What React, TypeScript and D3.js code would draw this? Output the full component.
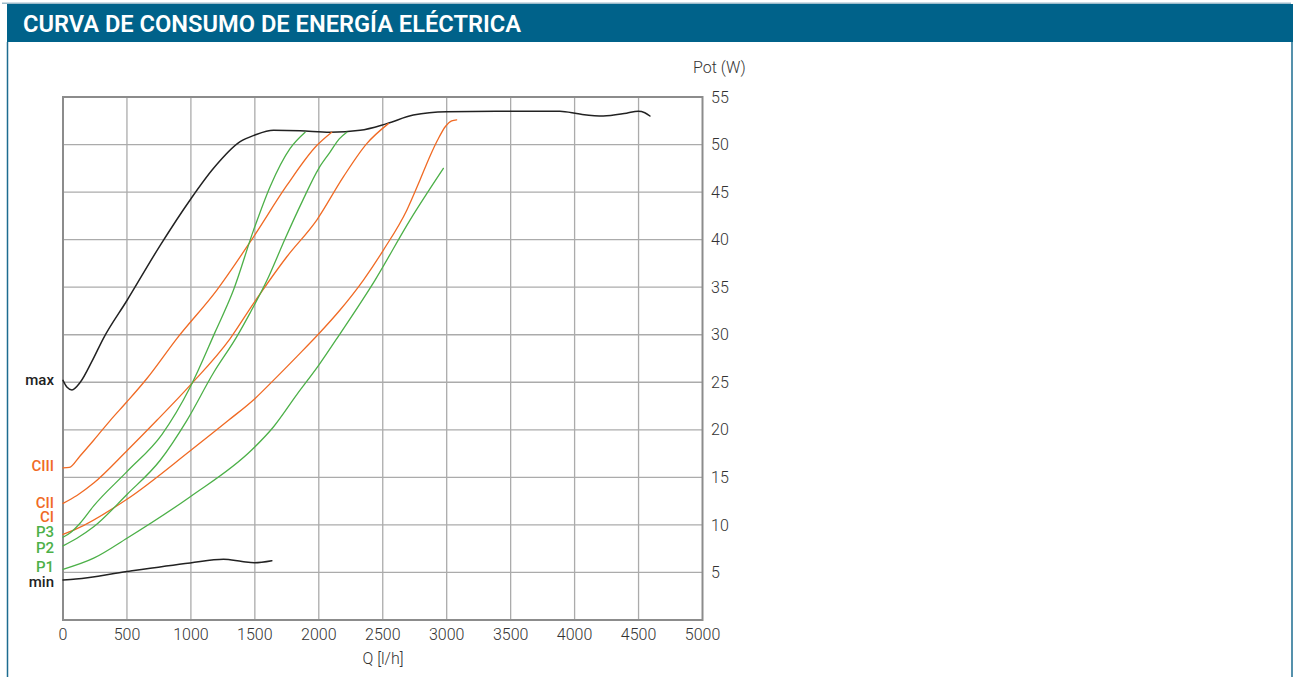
import React from "react";
import * as d3 from "d3";

const TITLE = "CURVA DE CONSUMO DE ENERGÍA ELÉCTRICA";
const xTicks = [0, 500, 1000, 1500, 2000, 2500, 3000, 3500, 4000, 4500, 5000];
const yTicks = [5, 10, 15, 20, 25, 30, 35, 40, 45, 50, 55];

const maxQ = [0, 30, 70, 135, 230, 315, 500, 760, 995, 1177, 1385, 1500, 1646, 1854, 2088, 2323, 2531, 2739, 3000, 3500, 3885, 4041, 4224, 4406, 4497, 4549, 4589];
const maxP = [25.2, 24.5, 24.2, 25.0, 27.3, 29.6, 33.6, 39.4, 44.2, 47.5, 50.3, 51.0, 51.5, 51.45, 51.3, 51.5, 52.2, 53.1, 53.45, 53.5, 53.5, 53.2, 53.0, 53.3, 53.5, 53.35, 53.0];

const minQ = [0, 100, 500, 995, 1255, 1400, 1497, 1633];
const minP = [4.2, 4.3, 5.1, 6.0, 6.38, 6.15, 6.02, 6.23];

const c3Q = [0, 50, 130, 240, 370, 500, 656, 890, 1203, 1490, 1750, 1984, 2101];
const c3P = [16.0, 16.05, 17.2, 18.9, 21.0, 22.95, 25.4, 29.6, 34.7, 40.3, 45.7, 49.9, 51.3];

const c2Q = [0, 109, 240, 500, 734, 995, 1307, 1490, 1750, 1984, 2192, 2375, 2544];
const c2P = [12.27, 13.1, 14.4, 17.8, 21.0, 24.7, 29.6, 33.3, 38.2, 42.06, 46.6, 50.1, 52.2];

const c1Q = [0, 109, 500, 995, 1294, 1502, 1645, 1828, 2000, 2166, 2349, 2505, 2688, 2792, 2870, 2930, 2990, 3039, 3078];
const c1P = [9.0, 9.6, 12.7, 17.8, 21.0, 23.3, 25.2, 27.7, 30.1, 32.6, 35.75, 38.9, 43.1, 46.3, 48.8, 50.5, 51.9, 52.5, 52.6];

const p3Q = [0, 60, 135, 240, 500, 773, 995, 1190, 1333, 1490, 1620, 1776, 1893];
const p3P = [8.7, 9.2, 10.2, 12.0, 15.6, 19.5, 24.5, 30.3, 34.7, 41.0, 45.6, 49.6, 51.3];

const p2Q = [0, 109, 240, 500, 760, 969, 1177, 1359, 1463, 1594, 1740, 1870, 2000, 2088, 2160, 2219];
const p2P = [7.8, 8.6, 9.8, 13.2, 16.8, 21.0, 26.0, 29.8, 32.3, 35.7, 40.2, 44.0, 47.5, 49.2, 50.6, 51.3];

const p1Q = [0, 240, 500, 995, 1477, 1645, 1828, 2000, 2166, 2440, 2713, 2974];
const p1P = [5.33, 6.5, 8.6, 12.97, 17.9, 20.3, 23.7, 26.8, 30.1, 35.75, 42.06, 47.5];

const ORANGE = "#f06a24";
const GREEN = "#4cb048";
const BLACK = "#222222";

const seriesNames = ["max", "min", "CIII", "CII", "CI", "P3", "P2", "P1"];
const seriesQ = [maxQ, minQ, c3Q, c2Q, c1Q, p3Q, p2Q, p1Q];
const seriesP = [maxP, minP, c3P, c2P, c1P, p3P, p2P, p1P];
const seriesColor = [BLACK, BLACK, ORANGE, ORANGE, ORANGE, GREEN, GREEN, GREEN];

const labelNames = ["max", "CIII", "CII", "CI", "P3", "P2", "P1", "min"];
const labelYpx = [380, 466, 503, 517, 532, 548, 567, 582];
const labelColor = [BLACK, ORANGE, ORANGE, ORANGE, GREEN, GREEN, GREEN, BLACK];

export default function App() {
  const W = 1293, H = 677;
  const x = d3.scaleLinear().domain([0, 5000]).range([63, 702.5]);
  const y = d3.scaleLinear().domain([0, 55]).range([620, 97]);
  const line = d3
    .line<[number, number]>()
    .x((d) => x(d[0]))
    .y((d) => y(d[1]))
    .curve(d3.curveMonotoneX);
  const font = "Roboto, 'DejaVu Sans', sans-serif";

  return (
    <svg width={W} height={H} style={{ position: "absolute", left: 0, top: 0, background: "#fff" }}>
      {/* card border */}
      <rect x={2} y={2.5} width={W - 4} height={1.5} fill="#9dbccb" />
      <rect x={7} y={4} width={W - 7} height={38} fill="#00628a" />
      <line x1={7.5} y1={42} x2={7.5} y2={H} stroke="#1d6c90" strokeWidth={1.5} />
      <line x1={1292} y1={42} x2={1292} y2={H} stroke="#1d6c90" strokeWidth={1.5} />
      <text
        x={23}
        y={31.5}
        fill="#fff"
        fontFamily={font}
        fontWeight={600}
        fontSize={23}
        textLength={498}
        lengthAdjust="spacingAndGlyphs"
      >
        {TITLE}
      </text>

      {/* grid */}
      {xTicks.slice(1, -1).map((t) => (
        <line key={"gx" + t} x1={x(t)} x2={x(t)} y1={y(55)} y2={y(0)} stroke="#ababab" strokeWidth={1.3} />
      ))}
      {yTicks.slice(0, -1).map((t) => (
        <line key={"gy" + t} x1={x(0)} x2={x(5000)} y1={y(t)} y2={y(t)} stroke="#ababab" strokeWidth={1.3} />
      ))}
      <rect
        x={x(0)}
        y={y(55)}
        width={x(5000) - x(0)}
        height={y(0) - y(55)}
        fill="none"
        stroke="#8c8c8c"
        strokeWidth={2}
      />

      {/* curves */}
      {seriesNames.map((n, i) => {
        const pts = seriesQ[i].map((q, j) => [q, seriesP[i][j]] as [number, number]);
        return (
          <path
            key={n}
            d={line(pts) || ""}
            fill="none"
            stroke={seriesColor[i]}
            strokeWidth={i < 2 ? 1.5 : 1.3}
            strokeLinejoin="round"
            strokeLinecap="round"
          />
        );
      })}

      {/* x tick labels */}
      {xTicks.map((t) => (
        <text
          key={"xt" + t}
          x={x(t)}
          y={640}
          textAnchor="middle"
          fontFamily={font}
          fontWeight={300}
          fontSize={16}
          fill="#333"
        >
          {t}
        </text>
      ))}
      <text x={383} y={664} textAnchor="middle" fontFamily={font} fontWeight={300} fontSize={16} fill="#333">
        Q [l/h]
      </text>

      {/* y tick labels */}
      {yTicks.map((t) => (
        <text
          key={"yt" + t}
          x={711}
          y={y(t)}
          dy="0.35em"
          fontFamily={font}
          fontWeight={300}
          fontSize={16}
          fill="#333"
        >
          {t}
        </text>
      ))}
      <text x={693} y={67} dy="0.35em" fontFamily={font} fontWeight={300} fontSize={16} fill="#333">
        Pot (W)
      </text>

      {/* series labels */}
      {labelNames.map((n, i) => (
        <text
          key={"lb" + n}
          x={54}
          y={labelYpx[i]}
          dy="0.35em"
          textAnchor="end"
          fontFamily={font}
          fontWeight={500}
          fontSize={15}
          fill={labelColor[i]}
        >
          {n}
        </text>
      ))}
    </svg>
  );
}
